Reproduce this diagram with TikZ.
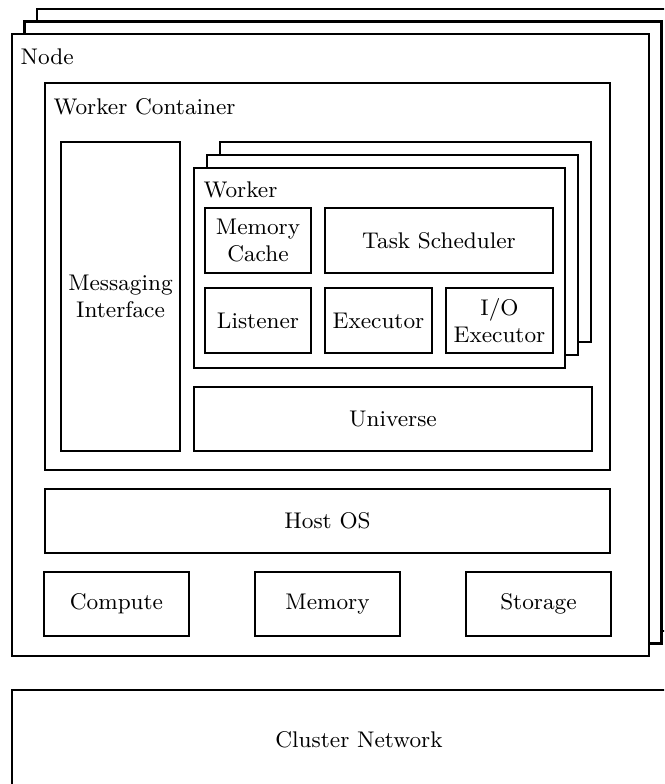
\documentclass[tikz,border=0pt]{standalone}
\usetikzlibrary{positioning}

% \blockbox{name}{x1}{y1}{x2}{y2}{text}: a framed block spanning the given corners
% (one drawing unit = 0.375pt, y grows downward)
\newcommand\blockbox[6]{%
  \node[blk, minimum width={(#4-#2)*0.375pt}, minimum height={(#5-#3)*0.375pt}]
    (#1) at ({(#2+#4)/2},{(#3+#5)/2}) {#6};}

\tikzset{
  txt/.style={font=\fontsize{8.5}{10.2}\selectfont},
  blk/.style={draw, line width=0.8pt, fill=white, inner sep=0pt, align=center,
              outer sep=0pt, txt},
  lbl/.style={anchor=base west, inner sep=0pt, txt}
}

\begin{document}
\begin{tikzpicture}[x=0.375pt, y=-0.375pt]
\useasboundingbox (0,0) rectangle (664,784);
\clip (0,0) rectangle (664,784);

% stacked node frames
\blockbox{nodeC}{37}{9}{674}{631}{}
\blockbox{nodeB}{24.5}{21.5}{661.5}{643.5}{}
\blockbox{nodeA}{12}{34}{649}{656}{}
\node[lbl] (nodelbl) at (20,65) {Node};

% worker container
\blockbox{container}{45}{83}{610}{470}{}
\node[lbl] (containerlbl) at (53,115) {Worker Container};

\blockbox{msg}{61}{142}{180}{451}{Messaging\\Interface}

% stacked workers
\blockbox{workerC}{220}{142}{591}{342}{}
\blockbox{workerB}{207}{155}{578}{355}{}
\blockbox{workerA}{194}{168}{565}{368}{}
\node[lbl] (workerlbl) at (203,198) {Worker};

\blockbox{cache}{205}{208}{311}{273}{Memory\\Cache}
\blockbox{sched}{325}{208}{553}{273}{Task Scheduler}
\blockbox{listen}{205}{288}{311}{353}{Listener}
\blockbox{exec}{325}{288}{432}{353}{Executor}
\blockbox{ioexec}{446}{288}{553}{353}{I/O\\Executor}

\blockbox{universe}{194}{387}{592}{451}{Universe}

% host layer
\blockbox{hostos}{45}{489}{610}{553}{Host OS}
\blockbox{compute}{44}{572}{189}{636}{Compute}
\blockbox{memory}{255}{572}{400}{636}{Memory}
\blockbox{storage}{466}{572}{611}{636}{Storage}

% network
\blockbox{network}{12}{690}{706}{790}{Cluster Network}
\end{tikzpicture}
\end{document}
